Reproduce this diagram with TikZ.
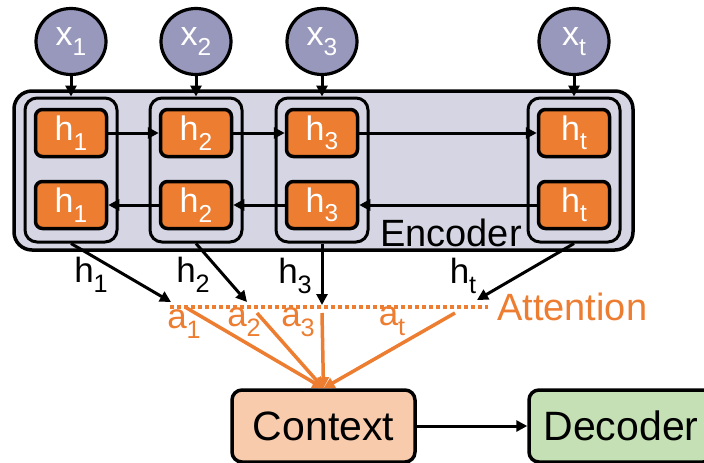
\documentclass[tikz,border=0pt]{standalone}
\usepackage{fontspec}
\setmainfont{Liberation Sans}
\usetikzlibrary{
  positioning,
  shapes.geometric,
  arrows.meta
}
\definecolor{inputpurple}{HTML}{9898BC}
\definecolor{encoderbg}{HTML}{D5D5E4}
\definecolor{cellorange}{HTML}{ED7D31}
\definecolor{contextpeach}{HTML}{F8CBAD}
\definecolor{decodergreen}{HTML}{C5E0B4}
\newcommand{\subidx}[1]{\raisebox{-0.28em}{\scalebox{0.72}{#1}}}

\begin{document}
\begin{tikzpicture}[
  x=1pt, y=-1pt,
  every node/.style={font=\fontsize{34}{38}\selectfont},
  xin/.style={draw, ellipse, line width=3.2pt, fill=inputpurple, text=white, minimum width=70pt, minimum height=66pt, inner sep=0pt},
  encoder/.style={draw, rectangle, rounded corners=18pt, line width=3.5pt, fill=encoderbg, minimum width=619pt, minimum height=159pt},
  column/.style={draw, rectangle, rounded corners=12pt, line width=3pt, minimum width=92pt, minimum height=144pt},
  hcell/.style={draw, rectangle, rounded corners=7pt, line width=3.5pt, fill=cellorange, text=white, minimum width=71pt, minimum height=47pt, inner sep=0pt},
  block/.style={draw, rectangle, rounded corners=10pt, line width=3.5pt, minimum width=183pt, minimum height=72pt, font=\fontsize{41}{46}\selectfont},
  lbl/.style={inner sep=0pt, font=\fontsize{35}{38}\selectfont},
  arrow/.style={line width=3pt, -{Triangle[length=11pt, width=11pt]}},
  oarrow/.style={line width=3.5pt, draw=cellorange, -{Triangle[length=11pt, width=11pt]}},
  attline/.style={line width=3.5pt, draw=cellorange, dash pattern=on 4pt off 3pt}
]
\useasboundingbox (0,0) rectangle (704,463);

% Encoder
\node[encoder] (enc) at (323.5,170.5) {};
\foreach \i/\x in {1/71, 2/196, 3/322, t/574} {
  \node[column] (col\i) at (\x,170) {};
  \node[xin] (x\i) at (\x,41.5) {x\subidx{\i}};
  \node[hcell] (hf\i) at (\x,133) {h\subidx{\i}};
  \node[hcell] (hb\i) at (\x,205) {h\subidx{\i}};
}
\node[inner sep=0pt, font=\fontsize{38}{42}\selectfont] (enclabel) at (451,233) {Encoder};

% Attention
\coordinate (attL) at (170,307);
\coordinate (attR) at (488,307);
\coordinate (in1) at (171,302);
\coordinate (in2) at (247,302);
\coordinate (in3) at (322,305);
\coordinate (int) at (477,300);
\coordinate (w1) at (185,307);
\coordinate (w2) at (257,313);
\coordinate (w3) at (322,313);
\coordinate (wt) at (455,313);
\node[inner sep=0pt, text=cellorange, font=\fontsize{38}{42}\selectfont, anchor=west] (attlabel) at (497,307) {Attention};

\node[lbl] (lh1) at (91,275) {h\subidx{1}};
\node[lbl] (lh2) at (193,275) {h\subidx{2}};
\node[lbl] (lh3) at (295,276) {h\subidx{3}};
\node[lbl] (lht) at (463,276) {h\subidx{t}};

\node[lbl, text=cellorange] (la1) at (184,324) {a\subidx{1}};
\node[lbl, text=cellorange] (la2) at (244,322) {a\subidx{2}};
\node[lbl, text=cellorange] (la3) at (298,322) {a\subidx{3}};
\node[lbl, text=cellorange] (lat) at (392,321) {a\subidx{t}};

% Context and decoder
\node[block, fill=contextpeach] (ctx) at (323.5,426) {Context};
\node[block, fill=decodergreen, minimum width=184pt] (dec) at (621,426) {Decoder};

% Arrows
\foreach \i in {1, 2, 3, t} {
  \draw[arrow] (x\i) -- (col\i);
}
\draw[arrow] (hf1) -- (hf2);
\draw[arrow] (hf2) -- (hf3);
\draw[arrow] (hf3) -- (hft);
\draw[arrow] (hbt) -- (hb3);
\draw[arrow] (hb3) -- (hb2);
\draw[arrow] (hb2) -- (hb1);

\draw[arrow] (col1.south) -- (in1);
\draw[arrow] (col2.south) -- (in2);
\draw[arrow] (col3.south) -- (in3);
\draw[arrow] (colt.south) -- (int);

\draw[attline] (attL) -- (attR);
\draw[oarrow] (w1) -- (ctx.north);
\draw[oarrow] (w2) -- (ctx.north);
\draw[oarrow] (w3) -- (ctx.north);
\draw[oarrow] (wt) -- (ctx.north);

\draw[arrow] (ctx) -- (dec);

\end{tikzpicture}
\end{document}
